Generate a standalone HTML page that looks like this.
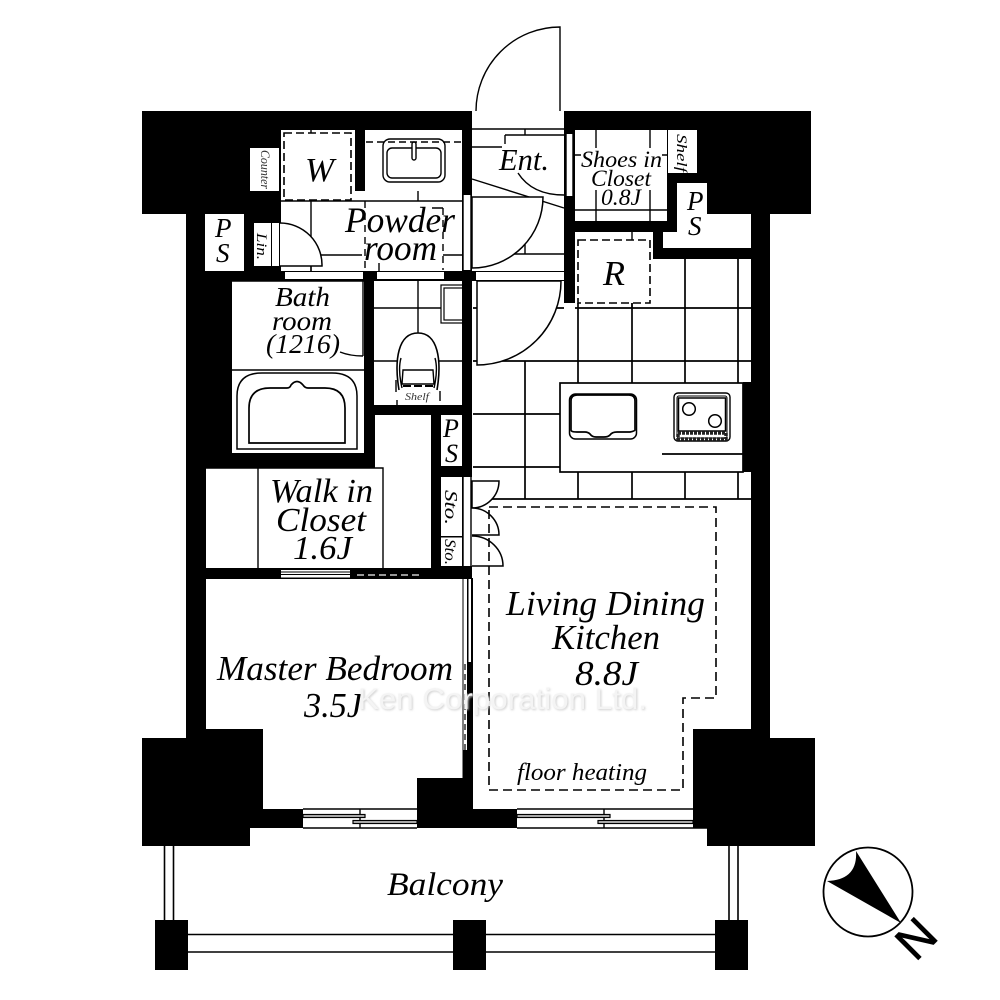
<!DOCTYPE html>
<html><head><meta charset="utf-8"><style>
html,body{margin:0;padding:0;background:#fff}
svg{display:block}
text{font-family:"Liberation Serif",serif;font-style:italic;fill:#000}
</style></head><body>
<svg width="1000" height="1000" viewBox="0 0 1000 1000" xmlns="http://www.w3.org/2000/svg">
<defs><filter id="b" x="-5%" y="-30%" width="110%" height="160%"><feGaussianBlur stdDeviation="1"/></filter></defs>
<rect width="1000" height="1000" fill="#fff"/>
<!-- building mass -->
<path fill="#000" d="M142 111H811V214H770V738H815V846H707V828H250V846H142V738H186V214H142Z"/>
<!-- rooms -->
<g fill="#fff">
<rect x="472" y="111" width="92" height="160"/>
<path d="M575 232H653V259H751V729H693V809H473V578H472V281H564V303H575Z"/>
<path d="M206 579H463V778H417V809H263V729H206Z"/>
<path d="M281 130H355V191H365V130H462V271H281Z"/>
<rect x="575" y="130" width="92" height="91"/>
<rect x="668" y="130" width="29" height="43"/>
<path d="M677 183H707V214H751V248H663V232H677Z"/>
<rect x="205" y="214" width="39" height="57"/>
<rect x="254" y="223" width="17" height="43"/>
<rect x="272" y="223" width="7" height="43"/>
<rect x="250" y="148" width="29" height="43"/>
<rect x="232" y="281" width="132" height="172"/>
<rect x="374" y="281" width="88" height="124"/>
<path d="M375 415H431V568H206V468H375Z"/>
<rect x="441" y="415" width="21" height="51"/>
<rect x="441" y="477" width="21" height="89"/>
<rect x="463" y="477" width="9" height="89"/>
<rect x="285" y="272" width="78" height="7"/>
<rect x="377" y="272" width="67" height="7"/>
<rect x="476" y="272" width="88" height="8"/>
<rect x="463" y="195" width="8" height="75"/>
<rect x="566" y="134" width="7" height="62"/>
<rect x="303" y="809" width="114" height="19"/>
<rect x="517" y="809" width="176" height="19"/>
<rect x="281" y="570" width="69" height="7.5"/>
</g>
<!-- black fill-ins -->
<rect x="743" y="382" width="8" height="90" fill="#000"/>
<rect x="441" y="536" width="21" height="1.5" fill="#000"/>
<rect x="462" y="477" width="1.5" height="89" fill="#000"/>

<g fill="none" stroke="#000" stroke-width="1.4">
<!-- strip outlines -->
<path d="M463 195V270M471 195V270M463 477V566M471 477V566M566 134V196M573 134V196"/>
<path d="M472 129H564"/>
<!-- entry floor -->
<path d="M472 147H502M505 135H564M505 135V144M525 129V135M525 197V254M472 254H564"/>
<path d="M472 179L564 208"/>
<!-- powder floor -->
<path d="M281 201H462M311 201V271M418 191V201M311 130V133M321 255H362M443 255H462M432 208H443"/>
<path d="M365 201V271M443 208V270" stroke-dasharray="7 5"/>
<path d="M366 142H462" stroke-dasharray="7 4"/>
<path d="M379 263V271"/>
<!-- shoes closet floor -->
<path d="M596 130V148M650 130V148M575 155H581M662 155H667M575 210H667M596 190V221M650 190V221"/>
<!-- kitchen tiles -->
<g stroke-width="1.7">
<path d="M473 308H564M575 308H751M473 361H751M473 414H560M473 467H560M743 467H751M473 499H751"/>
<path d="M525 361V499M578 303V383M578 472V499M632 303V383M632 472V499M685 259V383M685 472V499M738 259V383M738 472V499"/>
</g>
<!-- toilet floor -->
<path d="M418 281V340M374 308H441M374 361H462"/>
<!-- bath -->
<path d="M232 370H364M363 281V356M340 352Q350 356 363 356M232 281H364"/>
<path stroke-width="1.5" d="M237 449V396Q237 373 262 373H332Q357 373 357 396V449Z"/>
<path stroke-width="1.7" d="M249 443V408Q249 388 270 388H287Q290 388 291 385Q297 378 303 385Q305 388 308 388H325Q345 388 345 408V443Z"/>
<!-- closet -->
<path d="M206 468H383V568M258 468V568"/>
<path d="M281 572H350M281 574.5H350" stroke-width="1"/>
<path d="M357 575H421" stroke-dasharray="7 4" stroke="#ccc" stroke-width="1.6"/>
<!-- sink -->
<rect x="383" y="139" width="62" height="43" rx="7"/>
<rect x="387" y="148" width="54" height="30" rx="5"/>
<rect x="412" y="142" width="4" height="18" rx="2" fill="#fff"/>
<!-- hand shelf in WC -->
<rect x="441" y="285" width="22" height="38" stroke-width="1.2"/>
<rect x="444" y="288" width="19" height="32" stroke-width="1.2"/>
<!-- toilet -->
<path fill="#fff" stroke-width="1.6" d="M399 390C394 360 398 333 418 333C438 333 442 360 437 390"/>
<path d="M402 388C399 375 399 365 401 358M434 388C437 375 437 365 435 358"/>
<path fill="#fff" d="M402 384L403 370H433L434 384Z"/>
<path d="M403 386H434" stroke-width="2" stroke-dasharray="8 3"/>
<path d="M440 391V401M397 400V405M396 392L396 380"/>
<!-- doors -->
<path fill="#fff" d="M560 111V27A84 84 0 0 0 476 111"/>
<path d="M518 173Q532 195 564 195"/>
<path fill="#fff" stroke-width="1.5" d="M472 197H543A71 71 0 0 1 472 268Z"/>
<path fill="#fff" stroke-width="1.5" d="M477 281H561A84 84 0 0 1 477 365Z"/>
<path fill="#fff" stroke-width="1.5" d="M280 223A42 42 0 0 1 322 266H280"/>
<path d="M311 266V271"/>
<path fill="#fff" stroke-width="1.5" d="M472 481H499A27 27 0 0 1 472 508Z"/>
<path fill="#fff" stroke-width="1.5" d="M472 508A27 27 0 0 1 499 535H472"/>
<path fill="#fff" stroke-width="1.5" d="M472 536A31 30 0 0 1 503 566H472"/>
<!-- dashed zones -->
<path stroke-width="1.6" stroke-dasharray="9 5" d="M489 507H716V698H683V790H489V507"/>
<path stroke-width="1.6" stroke-dasharray="8 4" d="M578 240H650V303H578Z"/>
<path stroke-width="1.6" stroke-dasharray="8 4" d="M284 133H351V200H284Z"/>
<path d="M632 232V240M632 303V308"/>
<!-- counter -->
<rect x="560" y="383" width="183" height="89" stroke-width="1.7"/>
<path d="M662 454H743" stroke-width="1.7"/>
<rect x="569.5" y="394" width="67" height="45" rx="6" stroke-width="1.5"/>
<path stroke-width="1.7" d="M571 430V401Q571 395 577 395H629Q635 395 635 401V430Q635 431 630 432H617Q612 432 610 435Q608 437 604 437H596Q592 437 590 434Q588 432 585 432H577Q571 432 571 430Z"/>
<!-- cooktop -->
<rect x="674" y="393" width="56" height="48" rx="4" stroke-width="1.4"/>
<rect x="677" y="396" width="50" height="42" rx="2" stroke-width="1"/>
<rect x="678.5" y="398" width="47" height="33" stroke-width="1.5"/>
<circle cx="689" cy="409" r="6.3" stroke-width="1.5"/>
<circle cx="715" cy="421" r="6.3" stroke-width="1.5"/>
<rect x="678" y="433" width="48" height="6" stroke-width="3.5" stroke-dasharray="3 1" stroke="#222"/>
<!-- windows -->
<path d="M303 809H417M303 828H417M360 809V828M517 809H693M517 828H707M604 809V828"/>
<rect x="303" y="814.5" width="62" height="3" stroke-width="1.2" fill="#bbb"/>
<rect x="353" y="820.5" width="64" height="3" stroke-width="1.2" fill="#bbb"/>
<rect x="517" y="814.5" width="93" height="3" stroke-width="1.2" fill="#bbb"/>
<rect x="598" y="820.5" width="95" height="3" stroke-width="1.2" fill="#bbb"/>
<!-- balcony rails -->
<path stroke-width="1.6" d="M164.5 846V920M173.5 846V920M729 846V920M738 846V920M188 934.5H715M188 952H715"/>
</g>
<!-- balcony posts -->
<g fill="#000">
<rect x="155" y="920" width="33" height="50"/>
<rect x="453" y="920" width="33" height="50"/>
<rect x="715" y="920" width="33" height="50"/>
</g>
<!-- bedroom / LDK sliding door -->
<rect x="462.5" y="578" width="10.5" height="200" fill="#000"/>
<rect x="463.5" y="579" width="3.5" height="83" fill="#fff"/>
<rect x="468.5" y="579" width="2.5" height="83" fill="#fff"/>
<rect x="463.5" y="662" width="3.5" height="88" fill="#fff"/>
<path d="M465 664V750" stroke="#000" stroke-width="1.2" stroke-dasharray="6 4"/>
<!-- compass -->
<circle cx="868" cy="892" r="44.5" fill="#fff" stroke="#000" stroke-width="1.8"/>
<path fill="#000" d="M901 923L856 851Q858 880 827 881Z"/>

<!-- labels -->
<text x="305" y="181" font-size="34" textLength="29" lengthAdjust="spacingAndGlyphs">W</text>
<text x="345" y="232" font-size="36" textLength="110" lengthAdjust="spacingAndGlyphs">Powder</text>
<text x="364" y="260" font-size="36" textLength="73" lengthAdjust="spacingAndGlyphs">room</text>
<text x="499" y="170" font-size="31" textLength="50" lengthAdjust="spacingAndGlyphs">Ent.</text>
<text x="581" y="167" font-size="23" textLength="81" lengthAdjust="spacingAndGlyphs">Shoes in</text>
<text x="591" y="186" font-size="23" textLength="60" lengthAdjust="spacingAndGlyphs">Closet</text>
<text x="601" y="205" font-size="23" textLength="40" lengthAdjust="spacingAndGlyphs">0.8J</text>
<text transform="translate(677 134) rotate(90)" font-size="15" textLength="38" lengthAdjust="spacingAndGlyphs">Shelf</text>
<text x="687" y="210" font-size="27">P</text>
<text x="688" y="235" font-size="27">S</text>
<text x="603" y="285" font-size="35" textLength="22" lengthAdjust="spacingAndGlyphs">R</text>
<text x="215" y="237" font-size="27">P</text>
<text x="216" y="262" font-size="27">S</text>
<text transform="translate(261 150) rotate(90)" font-size="12.5" textLength="39" lengthAdjust="spacingAndGlyphs" style="fill:#333">Counter</text>
<text transform="translate(257 233) rotate(90)" font-size="15" textLength="27" lengthAdjust="spacingAndGlyphs">Lin.</text>
<text x="275" y="306" font-size="27" textLength="55" lengthAdjust="spacingAndGlyphs">Bath</text>
<text x="272" y="330" font-size="27" textLength="60" lengthAdjust="spacingAndGlyphs">room</text>
<text x="266" y="353" font-size="27" textLength="74" lengthAdjust="spacingAndGlyphs">(1216)</text>
<text x="405" y="400" font-size="10" textLength="24" lengthAdjust="spacingAndGlyphs" style="fill:#333">Shelf</text>
<text x="443" y="437" font-size="26">P</text>
<text x="445" y="462" font-size="26">S</text>
<text x="270" y="502" font-size="34" textLength="103" lengthAdjust="spacingAndGlyphs">Walk in</text>
<text x="276" y="531" font-size="34" textLength="90" lengthAdjust="spacingAndGlyphs">Closet</text>
<text x="293" y="559" font-size="34" textLength="59" lengthAdjust="spacingAndGlyphs">1.6J</text>
<text transform="translate(445 490) rotate(90)" font-size="18" textLength="35" lengthAdjust="spacingAndGlyphs">Sto.</text>
<text transform="translate(445 539) rotate(90)" font-size="16" textLength="26" lengthAdjust="spacingAndGlyphs">Sto.</text>
<text x="506" y="615" font-size="35" textLength="199" lengthAdjust="spacingAndGlyphs">Living Dining</text>
<text x="552" y="649" font-size="35" textLength="108" lengthAdjust="spacingAndGlyphs">Kitchen</text>
<text x="575" y="685" font-size="35" textLength="63" lengthAdjust="spacingAndGlyphs">8.8J</text>
<text x="217" y="680" font-size="35" textLength="236" lengthAdjust="spacingAndGlyphs">Master Bedroom</text>
<text x="304" y="717" font-size="35" textLength="58" lengthAdjust="spacingAndGlyphs">3.5J</text>
<text x="517" y="780" font-size="24" textLength="130" lengthAdjust="spacingAndGlyphs">floor heating</text>
<text x="387" y="895" font-size="33" textLength="116" lengthAdjust="spacingAndGlyphs">Balcony</text>
<text transform="translate(916 938.5) rotate(135)" x="0" y="16.5" font-size="48" text-anchor="middle" stroke="#000" stroke-width="0.8" style="font-family:'Liberation Sans',sans-serif;font-style:normal">N</text>
<text x="359" y="710" font-size="30" textLength="289" lengthAdjust="spacingAndGlyphs" filter="url(#b)" style="font-family:'Liberation Sans',sans-serif;font-style:normal;fill:#cfcfcf">Ken Corporation Ltd.</text>
<text x="358" y="709" font-size="30" textLength="289" lengthAdjust="spacingAndGlyphs" style="font-family:'Liberation Sans',sans-serif;font-style:normal;fill:#f4f4f4">Ken Corporation Ltd.</text>
</svg>
</body></html>
